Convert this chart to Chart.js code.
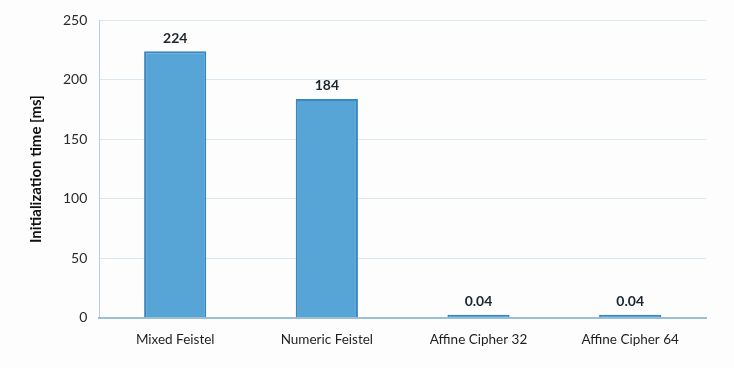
<!DOCTYPE html>
<html>
<head>
<meta charset="utf-8">
<script src="https://cdn.jsdelivr.net/npm/chart.js@4/dist/chart.umd.min.js"></script>
<style>
  html, body { margin: 0; padding: 0; background: #fdfdfd; }
  #wrap { width: 734px; height: 368px; position: relative; }
</style>
</head>
<body>
<div id="wrap"><canvas id="chart"></canvas></div>
<script>
// Chart data
const categories = ['Mixed Feistel', 'Numeric Feistel', 'Affine Cipher 32', 'Affine Cipher 64'];
const initTimes = [224, 184, 0.04, 0.04];
const valueLabels = ['224', '184', '0.04', '0.04'];
const yTicks = [0, 50, 100, 150, 200, 250];

const fontFamily = 'Lato, "Open Sans", sans-serif';

// Draws the value text above each bar
const barLabels = {
    id: 'barLabels',
    afterDatasetsDraw(chart) {
        const ctx = chart.ctx;
        const meta = chart.getDatasetMeta(0);
        ctx.save();
        ctx.font = 'bold 14px ' + fontFamily;
        ctx.fillStyle = '#1b252d';
        ctx.textAlign = 'center';
        ctx.textBaseline = 'bottom';
        meta.data.forEach((bar, i) => {
            ctx.fillText(valueLabels[i], bar.x, bar.y - 6);
        });
        ctx.restore();
    }
};

new Chart(document.getElementById('chart').getContext('2d'), {
    type: 'bar',
    data: {
        labels: categories,
        datasets: [{
            data: initTimes,
            backgroundColor: '#56a5d6',
            borderColor: '#3a86bd',
            borderWidth: 2,
            minBarLength: 3,
            categoryPercentage: 1,
            barPercentage: 0.41
        }]
    },
    options: {
        responsive: true,
        maintainAspectRatio: false,
        animation: false,
        layout: { padding: { left: 23, right: 28, top: 16, bottom: 14 } },
        plugins: {
            legend: { display: false },
            tooltip: { enabled: false }
        },
        scales: {
            y: {
                min: 0,
                max: 250,
                afterBuildTicks: axis => { axis.ticks = yTicks.map(v => ({ value: v })); },
                grid: { color: '#dce8ef', drawTicks: false },
                border: { color: '#b9cfdc' },
                ticks: { color: '#2a2a2a', padding: 12, font: { family: fontFamily, size: 14 } },
                title: {
                    display: true,
                    text: 'Initialization time [ms]',
                    color: '#111',
                    font: { family: fontFamily, size: 15, weight: 'bold' },
                    padding: { bottom: 6 }
                }
            },
            x: {
                grid: { display: false },
                border: { color: '#9cbfd6', width: 2 },
                ticks: { color: '#1f1f1f', padding: 6, font: { family: fontFamily, size: 13.5 } }
            }
        }
    },
    plugins: [barLabels]
});
</script>
</body>
</html>
